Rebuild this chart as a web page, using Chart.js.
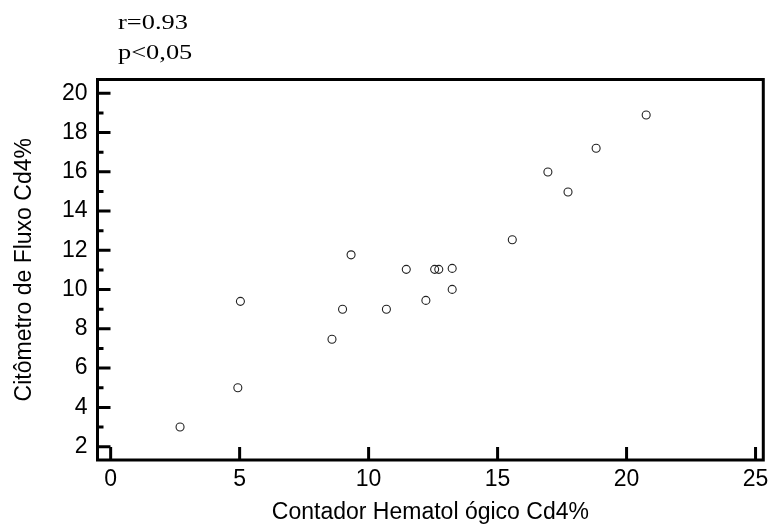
<!DOCTYPE html>
<html>
<head>
<meta charset="utf-8">
<script src="https://cdn.jsdelivr.net/npm/chart.js@4"></script>
<style>
html,body{margin:0;padding:0;background:#fff;}
#wrap{width:774px;height:528px;}
</style>
</head>
<body>
<div id="wrap"><canvas id="c" width="774" height="528"></canvas></div>
<script>
const xValues = [2.69, 4.93, 5.03, 8.58, 8.99, 9.32, 10.69, 11.46, 12.22, 12.56, 12.72, 13.24, 13.24, 15.57, 16.95, 17.73, 18.82, 20.76];
const yValues = [3.0, 5.0, 9.4, 7.47, 9.0, 11.77, 9.0, 11.03, 9.45, 11.03, 11.03, 11.08, 10.01, 12.54, 15.99, 14.97, 17.2, 18.89];
const xTicks = [0, 5, 10, 15, 20, 25];
const yTicks = [2, 4, 6, 8, 10, 12, 14, 16, 18, 20];
const yMinorTicks = [3, 5, 7, 9, 11, 13, 15, 17, 19];
const xTitle = 'Contador Hematol ógico Cd4%';
const yTitle = 'Citômetro de Fluxo Cd4%';
const statLines = ['r=0.93', 'p<0,05'];

const points = xValues.map((x, i) => ({x: x, y: yValues[i]}));

const framePlugin = {
  id: 'frameTicks',
  afterDraw(chart) {
    const ctx = chart.ctx;
    const a = chart.chartArea;
    const xs = chart.scales.x, ys = chart.scales.y;
    ctx.save();
    ctx.strokeStyle = '#000';
    ctx.lineWidth = 3;
    ctx.lineCap = 'butt';
    ctx.strokeRect(a.left, a.top, a.right - a.left, a.bottom - a.top);
    ctx.beginPath();
    yTicks.forEach(v => {
      const y = ys.getPixelForValue(v);
      ctx.moveTo(a.left, y); ctx.lineTo(a.left + 13, y);
    });
    yMinorTicks.forEach(v => {
      const y = ys.getPixelForValue(v);
      ctx.moveTo(a.left, y); ctx.lineTo(a.left + 6, y);
    });
    xTicks.forEach(v => {
      const x = xs.getPixelForValue(v);
      ctx.moveTo(x, a.bottom); ctx.lineTo(x, a.bottom - 13);
    });
    ctx.stroke();
    // stats text
    ctx.fillStyle = '#000';
    ctx.font = '22px "Liberation Serif", "Times New Roman", serif';
    ctx.textBaseline = 'alphabetic';
    ctx.textAlign = 'left';
    statLines.forEach((t, i) => {
      ctx.save();
      ctx.translate(118, 28.5 + i * 30);
      ctx.scale(1.2, 1);
      ctx.fillText(t, 0, 0);
      ctx.restore();
    });
    ctx.restore();
  }
};

const sansFont = {family: '"Liberation Sans", Arial, sans-serif', size: 23};

new Chart(document.getElementById('c'), {
  type: 'scatter',
  data: {
    datasets: [{
      data: points,
      pointRadius: 4,
      pointBorderWidth: 1.1,
      pointBorderColor: '#222',
      pointBackgroundColor: 'rgba(255,255,255,0)',
      pointHoverRadius: 4
    }]
  },
  options: {
    responsive: false,
    animation: false,
    events: [],
    layout: {padding: {top: 79.5, right: 5, left: 0, bottom: 0}},
    plugins: {legend: {display: false}, tooltip: {enabled: false}},
    scales: {
      x: {
        type: 'linear',
        min: -0.51,
        max: 25.3,
        afterBuildTicks: s => { s.ticks = xTicks.map(v => ({value: v})); },
        afterFit: s => { s.height = 68; },
        grid: {display: false, drawTicks: false},
        border: {display: false},
        ticks: {color: '#000', font: sansFont, padding: 5.6, maxRotation: 0, autoSkip: false},
        title: {display: true, text: xTitle, color: '#000', font: sansFont, padding: {top: 0, bottom: 2}}
      },
      y: {
        type: 'linear',
        min: 1.32,
        max: 20.7,
        afterBuildTicks: s => { s.ticks = yTicks.map(v => ({value: v})); },
        afterFit: s => { s.width = 97.5; },
        grid: {display: false, drawTicks: false},
        border: {display: false},
        ticks: {color: '#000', font: sansFont, padding: 10, autoSkip: false},
        title: {display: true, text: yTitle, color: '#000', font: sansFont, padding: {top: 10.6, bottom: 0}}
      }
    }
  },
  plugins: [framePlugin]
});
</script>
</body>
</html>
